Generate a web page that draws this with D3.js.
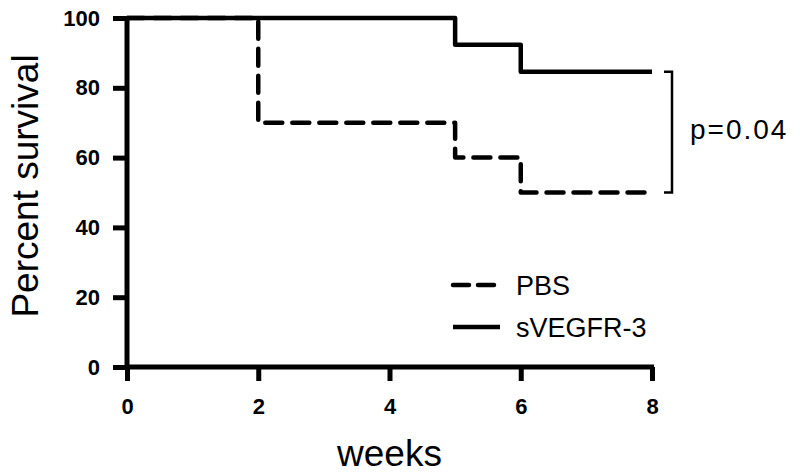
<!DOCTYPE html>
<html><head><meta charset="utf-8">
<script src="https://cdn.jsdelivr.net/npm/d3@7"></script>
<style>body{margin:0;background:#fff}svg{display:block}</style>
</head><body>
<script>
const weeks = [0, 2, 5, 6, 8];
const pbs = [100, 70, 60, 50, 50];
const weeksV = [0, 5, 6, 8];
const svegfr = [100, 92.3, 84.6, 84.6];
const xTicks = [0, 2, 4, 6, 8];
const yTicks = [0, 20, 40, 60, 80, 100];
const seriesNames = ["PBS", "sVEGFR-3"];
const pValue = "p=0.04";

const W = 800, H = 475;
const svg = d3.select("body").append("svg").attr("width", W).attr("height", H);
const x = d3.scaleLinear().domain([0, 8]).range([127, 652]);
const y = d3.scaleLinear().domain([0, 100]).range([367, 18]);

const font = "'Liberation Sans', Arial, sans-serif";

// axes
const gy = svg.append("g").attr("transform", `translate(${x(0)},0)`)
  .call(d3.axisLeft(y).tickValues(yTicks).tickSize(14).tickPadding(13).tickSizeOuter(0));
const gx = svg.append("g").attr("transform", `translate(0,${y(0)})`)
  .call(d3.axisBottom(x).tickValues(xTicks).tickSize(14).tickPadding(17).tickSizeOuter(0));
[gx, gy].forEach(g => {
  g.select(".domain").attr("stroke", "#000").attr("stroke-width", 5);
  g.selectAll(".tick line").attr("stroke", "#000").attr("stroke-width", 5);
  g.selectAll(".tick text").attr("fill", "#000").style("font-family", font)
    .style("font-size", "22px").style("font-weight", "bold");
});
gy.select(".domain").attr("d", `M0,${y(100)}V${y(0)+2}`);
gx.select(".domain").attr("d", `M${x(0)-2},0H${x(8)+2}`);

const line = d3.line().x(d => x(d[0])).y(d => y(d[1])).curve(d3.curveStepAfter);

svg.append("path").datum(weeksV.map((w, i) => [w, svegfr[i]]))
  .attr("d", line).attr("fill", "none").attr("stroke", "#000")
  .attr("stroke-width", 4.5).attr("stroke-linejoin", "round");
svg.append("path").datum(weeks.map((w, i) => [w, pbs[i]]))
  .attr("d", line).attr("fill", "none").attr("stroke", "#000")
  .attr("stroke-width", 4.5).attr("stroke-dasharray", "17,10")
  .attr("stroke-linecap", "round").attr("stroke-linejoin", "round");

// bracket
const bx = 672;
svg.append("path")
  .attr("d", `M${bx-8},${y(svegfr[3])}H${bx}V${y(pbs[4])}H${bx-8}`)
  .attr("fill", "none").attr("stroke", "#000").attr("stroke-width", 2.5);
svg.append("text").attr("x", 690).attr("y", 139)
  .attr("font-family", font).attr("font-size", 28).attr("letter-spacing", 2).text(pValue);

// legend
const leg = svg.append("g");
[285, 327].forEach((ly, i) => {
  leg.append("line").attr("x1", 453).attr("x2", 500).attr("y1", ly).attr("y2", ly)
    .attr("stroke", "#000").attr("stroke-width", 4.5)
    .attr("stroke-dasharray", i === 0 ? "16,9" : null)
    .attr("stroke-linecap", i === 0 ? "round" : "butt");
  leg.append("text").attr("x", 516).attr("y", ly + 10).attr("font-family", font)
    .attr("font-size", 27).text(seriesNames[i]);
});

// axis titles
svg.append("text").attr("x", (x(0) + x(8)) / 2).attr("y", 466).attr("text-anchor", "middle")
  .attr("font-family", font).attr("font-size", 37).text("weeks");
svg.append("text").attr("transform", "translate(38,186) rotate(-90)").attr("text-anchor", "middle")
  .attr("font-family", font).attr("font-size", 37).text("Percent survival");
</script>
</body></html>
